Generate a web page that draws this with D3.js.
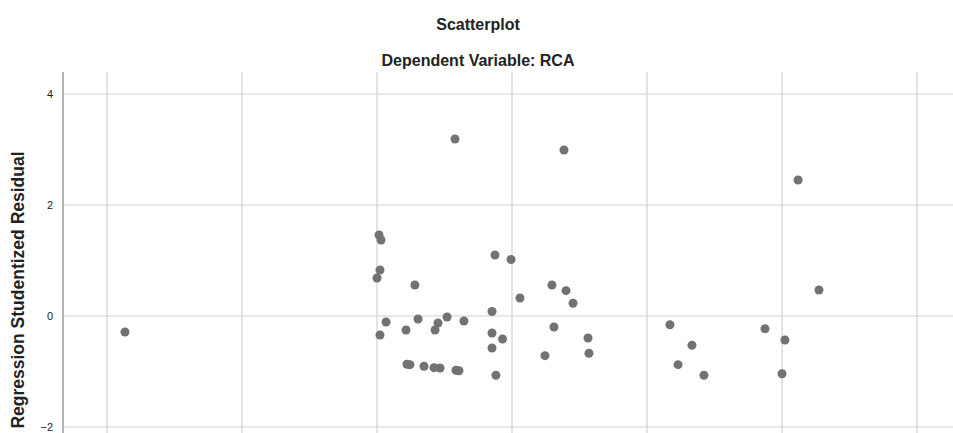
<!DOCTYPE html>
<html>
<head>
<meta charset="utf-8">
<script src="https://cdn.jsdelivr.net/npm/d3@7"></script>
<style>
  body { margin: 0; background: #fff; }
  svg { display: block; font-family: "Liberation Sans", Arial, sans-serif; }
</style>
</head>
<body>
<svg id="chart"></svg>
<script>
// predicted value (x) and studentized residual (y)
var predicted = [-2.867, -0.422, 0.385, 2.119, 2.274, -0.985, -0.970, -0.978, -1.000, -0.719,
    -0.126, -0.007, 0.059, -0.148, -0.933, -0.978, -0.785, -0.696, -0.548, -0.570,
    -0.481, -0.356, -0.148, -0.070, -0.148, -0.778, -0.756, -0.652, -0.578, -0.533,
    -0.415, -0.393, -0.119, 0.296, 0.400, 0.452, 0.311, 0.563, 0.570, 0.244,
    1.170, 1.333, 1.230, 1.422, 1.874, 2.022, 2.000];
var residual = [-0.288, 3.189, 2.991, 2.450, 0.468, 1.459, 1.369, 0.829, 0.685, 0.559,
    1.099, 1.018, 0.324, 0.081, -0.108, -0.342, -0.252, -0.054, -0.126, -0.252,
    -0.018, -0.090, -0.306, -0.414, -0.577, -0.870, -0.877, -0.906, -0.931, -0.937,
    -0.978, -0.986, -1.068, 0.559, 0.456, 0.229, -0.198, -0.396, -0.672, -0.715,
    -0.157, -0.528, -0.877, -1.068, -0.229, -0.432, -1.040];
var xTicks = [-3, -2, -1, 0, 1, 2, 3];
var yTicks = [-2, 0, 2, 4];

var width = 953, height = 433;
var plotLeft = 63, plotTop = 72;

var svg = d3.select("#chart")
    .attr("width", width)
    .attr("height", height);

var x = d3.scaleLinear().domain([-3, 3]).range([107, 917]);
var y = d3.scaleLinear().domain([-2, 4]).range([427, 94]);

// grid
svg.append("g").selectAll("line")
    .data(xTicks)
    .enter()
    .append("line")
    .attr("x1", function(d) { return x(d); })
    .attr("x2", function(d) { return x(d); })
    .attr("y1", plotTop)
    .attr("y2", height)
    .attr("stroke", "#d2d2d2")
    .attr("stroke-width", 1.2);

svg.append("g").selectAll("line")
    .data(yTicks)
    .enter()
    .append("line")
    .attr("x1", plotLeft)
    .attr("x2", width)
    .attr("y1", function(d) { return y(d); })
    .attr("y2", function(d) { return y(d); })
    .attr("stroke", "#d2d2d2")
    .attr("stroke-width", 1.2);

// y axis
var yAxis = d3.axisLeft(y)
    .tickValues(yTicks)
    .tickFormat(d3.format("d"))
    .tickSize(0)
    .tickPadding(10);
var ax = svg.append("g")
    .attr("transform", "translate(" + plotLeft + ",0)")
    .call(yAxis);
ax.select(".domain").remove();
ax.selectAll("text")
    .attr("font-size", 11)
    .attr("fill", "#222")
    .attr("font-family", "Liberation Sans, Arial, sans-serif");

svg.append("line")
    .attr("x1", plotLeft).attr("x2", plotLeft)
    .attr("y1", plotTop).attr("y2", height)
    .attr("stroke", "#9a9a9a")
    .attr("stroke-width", 1.5);

// points
svg.append("g").selectAll("circle")
    .data(predicted)
    .enter()
    .append("circle")
    .attr("cx", function(d) { return x(d); })
    .attr("cy", function(d, i) { return y(residual[i]); })
    .attr("r", 4.5)
    .attr("fill", "#727272");

// titles
svg.append("text")
    .attr("x", 478).attr("y", 30)
    .attr("text-anchor", "middle")
    .attr("font-size", 16)
    .attr("font-weight", "bold")
    .attr("fill", "#222")
    .text("Scatterplot");

svg.append("text")
    .attr("x", 478).attr("y", 66)
    .attr("text-anchor", "middle")
    .attr("font-size", 16)
    .attr("font-weight", "bold")
    .attr("fill", "#222")
    .text("Dependent Variable: RCA");

svg.append("text")
    .attr("transform", "translate(24,290) rotate(-90)")
    .attr("text-anchor", "middle")
    .attr("font-size", 17.5)
    .attr("font-weight", "bold")
    .attr("fill", "#222")
    .text("Regression Studentized Residual");
</script>
</body>
</html>
